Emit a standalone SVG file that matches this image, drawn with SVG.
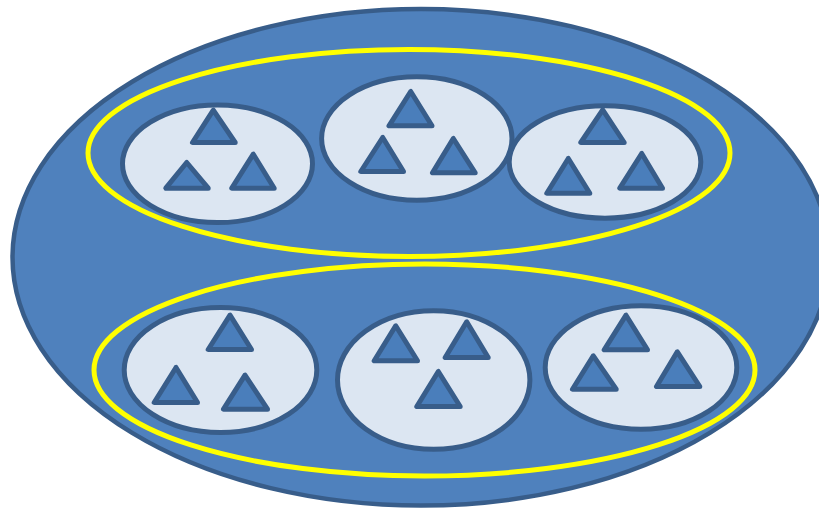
<svg xmlns="http://www.w3.org/2000/svg" width="819" height="510" viewBox="0 0 819 510">
<style>
.outer{fill:#4f81bd;stroke:#385d8a;stroke-width:4.5}
.group{fill:none;stroke:#ffff00;stroke-width:5}
.cell{fill:#dce6f2;stroke:#385d8a;stroke-width:5}
.tri{fill:#4a7ebb;stroke:#385d8a;stroke-width:5;stroke-linejoin:round}
</style>
<rect width="819" height="510" fill="#ffffff"/>
<g id="universe">
<ellipse class="outer" cx="421" cy="257.3" rx="408.5" ry="248.3"/>
</g>
<g id="cluster-top">
<ellipse class="group" cx="409" cy="153" rx="321" ry="103.5"/>
</g>
<g id="cluster-bottom">
<ellipse class="group" cx="424.5" cy="370" rx="330.5" ry="106"/>
</g>
<g id="node1">
<ellipse class="cell" cx="217.5" cy="163.8" rx="95" ry="58.8"/>
<polygon class="tri" points="213.3,110.2 192.5,142.5 235.2,142.5"/>
<polygon class="tri" points="186.7,162.5 165.8,188.2 208.2,188.2"/>
<polygon class="tri" points="253.3,154.2 231.8,188.2 274.2,188.2"/>
</g>
<g id="node2">
<ellipse class="cell" cx="416.8" cy="138.5" rx="95.2" ry="61.7"/>
<polygon class="tri" points="410.7,91.5 389,125.8 432,125.8"/>
<polygon class="tri" points="382.7,137.5 360.8,171.5 403.5,171.5"/>
<polygon class="tri" points="453.3,138.5 432.5,172.8 475.2,172.8"/>
</g>
<g id="node3">
<ellipse class="cell" cx="605" cy="162" rx="95.8" ry="56.2"/>
<polygon class="tri" points="602.7,109.8 580.8,142.5 624.2,142.5"/>
<polygon class="tri" points="568.3,158.5 546.8,193.2 589.8,193.2"/>
<polygon class="tri" points="641.7,153.5 619.8,188.2 662.5,188.2"/>
</g>
<g id="node4">
<ellipse class="cell" cx="220.5" cy="370" rx="96.3" ry="62.5"/>
<polygon class="tri" points="230,315.2 208.2,349.5 251.5,349.5"/>
<polygon class="tri" points="176,367.5 154.2,402.5 197.5,402.5"/>
<polygon class="tri" points="245,375.2 223.5,409.2 267.5,409.2"/>
</g>
<g id="node5">
<ellipse class="cell" cx="433.7" cy="380" rx="96.2" ry="69.2"/>
<polygon class="tri" points="395.7,325.8 374.2,360.8 417.5,360.8"/>
<polygon class="tri" points="466.7,321.8 445.2,357.5 488.2,357.5"/>
<polygon class="tri" points="438.3,371.5 416.8,406.5 460.2,406.5"/>
</g>
<g id="node6">
<ellipse class="cell" cx="641" cy="367.5" rx="95.8" ry="61.7"/>
<polygon class="tri" points="626,315.2 604.2,349.8 647.5,349.8"/>
<polygon class="tri" points="593.3,355.8 572.5,389.2 616.2,389.2"/>
<polygon class="tri" points="677.3,351.8 656.5,386.5 699.8,386.5"/>
</g>
</svg>
